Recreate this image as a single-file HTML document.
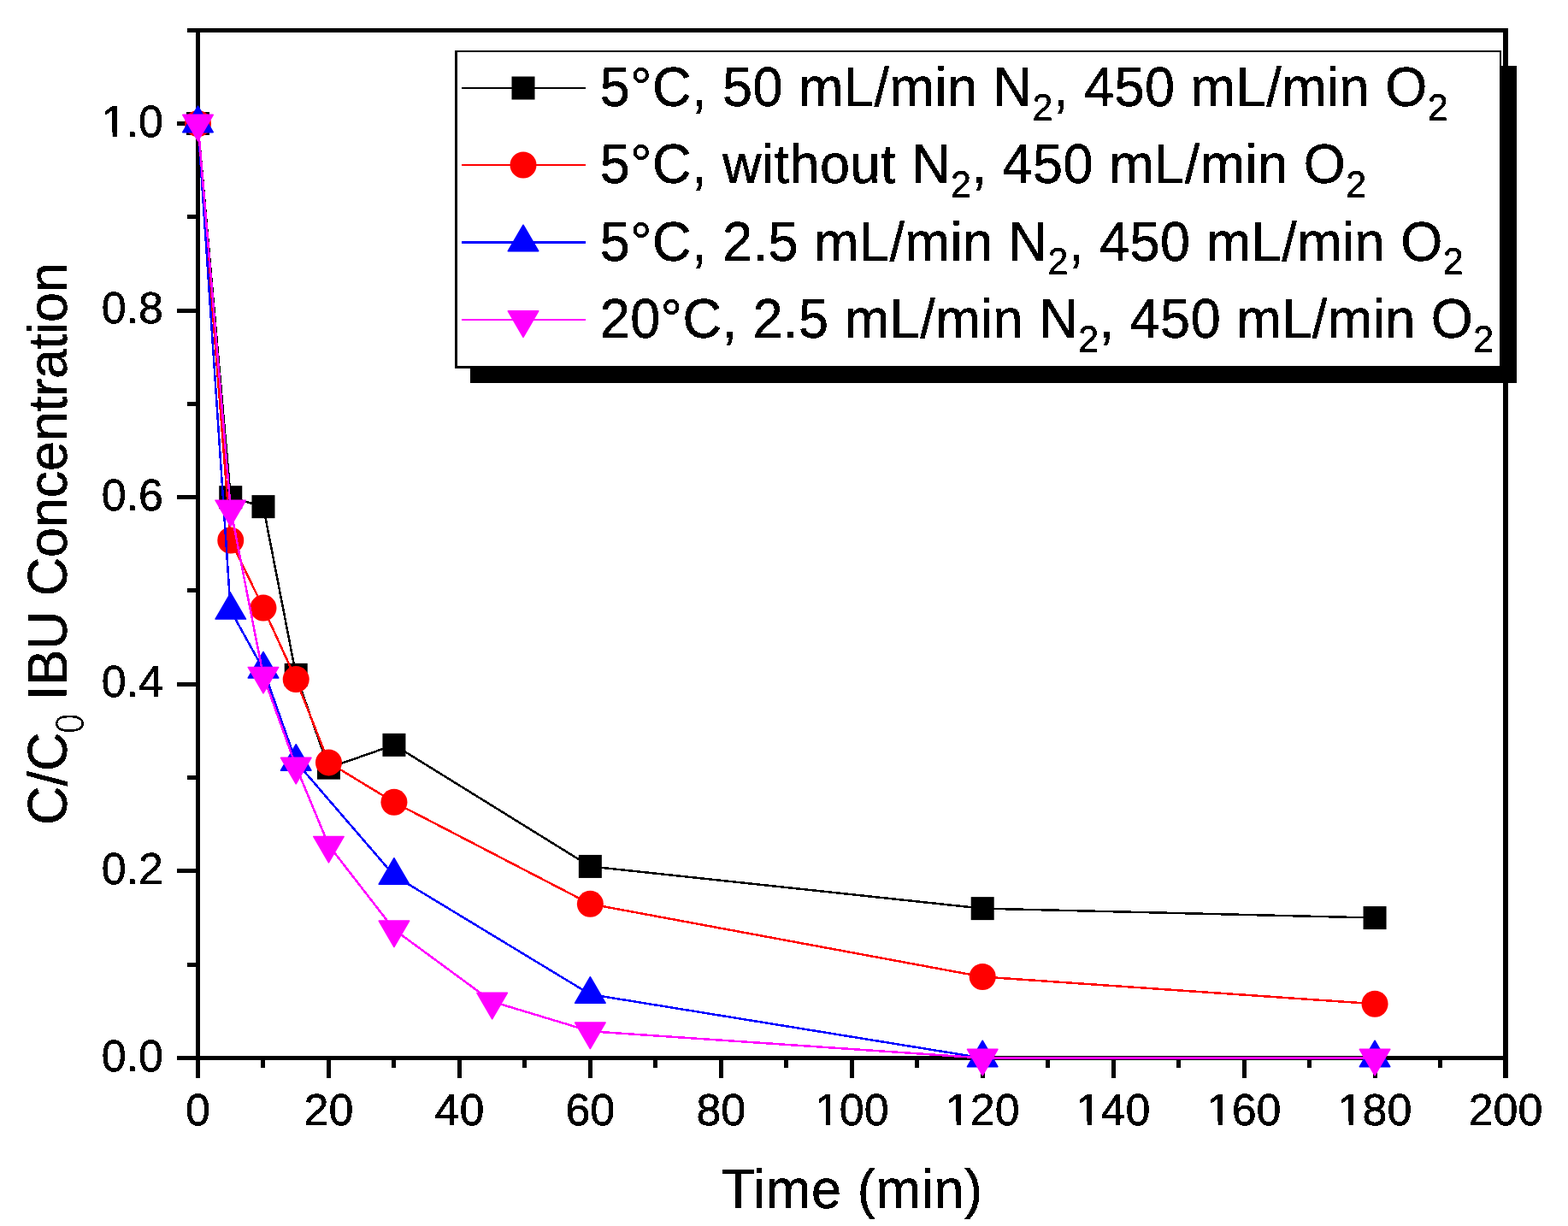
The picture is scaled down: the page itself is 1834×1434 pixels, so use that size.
<!DOCTYPE html>
<html><head><meta charset="utf-8"><title>C/C0 IBU Concentration vs Time</title>
<style>
html,body{margin:0;padding:0;background:#fff;overflow:hidden;}
svg{display:block;}
text{font-family:"Liberation Sans",Arial,sans-serif;fill:#000;stroke:#000;stroke-width:0.5px;filter:url(#bin);}
</style></head>
<body>
<svg width="1834" height="1434" viewBox="0 0 1834 1434">
<rect width="1834" height="1434" fill="#fff"/>
<defs><filter id="bin" x="-0.1" y="-0.3" width="1.2" height="1.6" color-interpolation-filters="sRGB"><feComponentTransfer><feFuncA type="discrete" tableValues="0 1"/></feComponentTransfer></filter></defs>
<g fill="#000" shape-rendering="crispEdges"><rect x="229" y="33" width="5" height="1228"/>
<rect x="1758" y="33" width="6" height="1228"/>
<rect x="219" y="33" width="1545" height="5"/>
<rect x="207" y="1235" width="1557" height="5"/>
<rect x="219" y="1126" width="10" height="5"/>
<rect x="207" y="1016" width="22" height="5"/>
<rect x="219" y="907" width="10" height="5"/>
<rect x="207" y="798" width="22" height="5"/>
<rect x="219" y="688" width="10" height="5"/>
<rect x="207" y="579" width="22" height="5"/>
<rect x="219" y="470" width="10" height="5"/>
<rect x="207" y="361" width="22" height="5"/>
<rect x="219" y="251" width="10" height="5"/>
<rect x="207" y="142" width="22" height="5"/>
<rect x="305" y="1240" width="5" height="9"/>
<rect x="382" y="1240" width="5" height="21"/>
<rect x="458" y="1240" width="5" height="9"/>
<rect x="535" y="1240" width="5" height="21"/>
<rect x="611" y="1240" width="5" height="9"/>
<rect x="688" y="1240" width="5" height="21"/>
<rect x="764" y="1240" width="5" height="9"/>
<rect x="841" y="1240" width="5" height="21"/>
<rect x="917" y="1240" width="5" height="9"/>
<rect x="994" y="1240" width="5" height="21"/>
<rect x="1070" y="1240" width="5" height="9"/>
<rect x="1147" y="1240" width="5" height="21"/>
<rect x="1223" y="1240" width="5" height="9"/>
<rect x="1300" y="1240" width="5" height="21"/>
<rect x="1376" y="1240" width="5" height="9"/>
<rect x="1453" y="1240" width="5" height="21"/>
<rect x="1529" y="1240" width="5" height="9"/>
<rect x="1606" y="1240" width="5" height="21"/>
<rect x="1682" y="1240" width="5" height="9"/></g>
<clipPath id="nofoot" clipPathUnits="userSpaceOnUse"><path clip-rule="evenodd" d="M0 0H1834V1434H0Z M121.25 154.72H131.79V161H121.25Z M136.88 154.72H146.64V161H136.88Z M955.41 1311.52H965.95V1317.8H955.41Z M971.04 1311.52H980.8V1317.8H971.04Z M1108.36 1311.52H1118.9V1317.8H1108.36Z M1123.99 1311.52H1133.75V1317.8H1123.99Z M1261.31 1311.52H1271.85V1317.8H1261.31Z M1276.94 1311.52H1286.7V1317.8H1276.94Z M1414.26 1311.52H1424.8V1317.8H1414.26Z M1429.89 1311.52H1439.65V1317.8H1429.89Z M1567.21 1311.52H1577.75V1317.8H1567.21Z M1582.84 1311.52H1592.6V1317.8H1582.84Z"/></clipPath>
<g clip-path="url(#nofoot)"><text transform="translate(191,1252.5) scale(1,1.0)" font-size="52" text-anchor="end">0.0</text>
<text transform="translate(191,1033.9) scale(1,1.0)" font-size="52" text-anchor="end">0.2</text>
<text transform="translate(191,815.3) scale(1,1.0)" font-size="52" text-anchor="end">0.4</text>
<text transform="translate(191,596.7) scale(1,1.0)" font-size="52" text-anchor="end">0.6</text>
<text transform="translate(191,378.1) scale(1,1.0)" font-size="52" text-anchor="end">0.8</text>
<text transform="translate(191,159.5) scale(1,1.0)" font-size="52" text-anchor="end">1.0</text>
<text transform="translate(231.5,1316.3) scale(1,1.0)" font-size="52" text-anchor="middle">0</text>
<text transform="translate(384.45,1316.3) scale(1,1.0)" font-size="52" text-anchor="middle">20</text>
<text transform="translate(537.4,1316.3) scale(1,1.0)" font-size="52" text-anchor="middle">40</text>
<text transform="translate(690.35,1316.3) scale(1,1.0)" font-size="52" text-anchor="middle">60</text>
<text transform="translate(843.3,1316.3) scale(1,1.0)" font-size="52" text-anchor="middle">80</text>
<text transform="translate(996.25,1316.3) scale(1,1.0)" font-size="52" text-anchor="middle">100</text>
<text transform="translate(1149.2,1316.3) scale(1,1.0)" font-size="52" text-anchor="middle">120</text>
<text transform="translate(1302.15,1316.3) scale(1,1.0)" font-size="52" text-anchor="middle">140</text>
<text transform="translate(1455.1,1316.3) scale(1,1.0)" font-size="52" text-anchor="middle">160</text>
<text transform="translate(1608.05,1316.3) scale(1,1.0)" font-size="52" text-anchor="middle">180</text>
<text transform="translate(1761,1316.3) scale(1,1.0)" font-size="52" text-anchor="middle">200</text></g>
<text transform="translate(997,1413) scale(1,1.04)" font-size="63" text-anchor="middle" letter-spacing="0.7">Time (min)</text>
<text transform="translate(77.8,965) rotate(-90) scale(1,1.04)" font-size="63">C/C<tspan font-family="DejaVu Sans" font-weight="200" font-size="41" dx="-2.7" dy="18">0</tspan><tspan dx="-3.3" dy="-18" letter-spacing="-0.17"> IBU Concentration</tspan></text>
<polyline points="231.5,144.5 269.74,581.7 307.98,592.63 346.21,789.37 384.45,898.12 460.93,871.35 690.35,1013.43 1149.2,1062.62 1608.05,1073.55" fill="none" stroke="#000" stroke-width="2.5" stroke-linejoin="round" shape-rendering="crispEdges"/>
<rect x="218" y="131" width="27" height="27" fill="#000"/>
<rect x="256.24" y="568.2" width="27" height="27" fill="#000"/>
<rect x="294.48" y="579.13" width="27" height="27" fill="#000"/>
<rect x="332.71" y="775.87" width="27" height="27" fill="#000"/>
<rect x="370.95" y="884.62" width="27" height="27" fill="#000"/>
<rect x="447.43" y="857.85" width="27" height="27" fill="#000"/>
<rect x="676.85" y="999.93" width="27" height="27" fill="#000"/>
<rect x="1135.7" y="1049.12" width="27" height="27" fill="#000"/>
<rect x="1594.55" y="1060.05" width="27" height="27" fill="#000"/>
<polyline points="231.5,144.5 269.74,631.98 307.98,711.11 346.21,794.62 384.45,891.89 460.93,938.35 690.35,1057.37 1149.2,1142.52 1608.05,1174.22" fill="none" stroke="#f00" stroke-width="2.5" stroke-linejoin="round" shape-rendering="crispEdges"/>
<circle cx="231.5" cy="144.5" r="15.5" fill="#f00"/>
<circle cx="269.74" cy="631.98" r="15.5" fill="#f00"/>
<circle cx="307.98" cy="711.11" r="15.5" fill="#f00"/>
<circle cx="346.21" cy="794.62" r="15.5" fill="#f00"/>
<circle cx="384.45" cy="891.89" r="15.5" fill="#f00"/>
<circle cx="460.93" cy="938.35" r="15.5" fill="#f00"/>
<circle cx="690.35" cy="1057.37" r="15.5" fill="#f00"/>
<circle cx="1149.2" cy="1142.52" r="15.5" fill="#f00"/>
<circle cx="1608.05" cy="1174.22" r="15.5" fill="#f00"/>
<polyline points="231.5,144.5 269.74,713.95 307.98,782.81 346.21,891.02 460.93,1024.04 690.35,1163.07 1149.2,1237.5 1608.05,1237.5" fill="none" stroke="#00f" stroke-width="2.5" stroke-linejoin="round" shape-rendering="crispEdges"/>
<polygon points="231.5,124.17 249.25,154.67 213.75,154.67" fill="#00f" stroke="#00f" stroke-width="1.5" stroke-linejoin="round"/>
<polygon points="269.74,693.62 287.49,724.12 251.99,724.12" fill="#00f" stroke="#00f" stroke-width="1.5" stroke-linejoin="round"/>
<polygon points="307.98,762.48 325.73,792.98 290.23,792.98" fill="#00f" stroke="#00f" stroke-width="1.5" stroke-linejoin="round"/>
<polygon points="346.21,870.69 363.96,901.19 328.46,901.19" fill="#00f" stroke="#00f" stroke-width="1.5" stroke-linejoin="round"/>
<polygon points="460.93,1003.7 478.68,1034.2 443.18,1034.2" fill="#00f" stroke="#00f" stroke-width="1.5" stroke-linejoin="round"/>
<polygon points="690.35,1142.73 708.1,1173.23 672.6,1173.23" fill="#00f" stroke="#00f" stroke-width="1.5" stroke-linejoin="round"/>
<polygon points="1149.2,1217.17 1166.95,1247.67 1131.45,1247.67" fill="#00f" stroke="#00f" stroke-width="1.5" stroke-linejoin="round"/>
<polygon points="1608.05,1217.17 1625.8,1247.67 1590.3,1247.67" fill="#00f" stroke="#00f" stroke-width="1.5" stroke-linejoin="round"/>
<polyline points="231.5,144.5 269.74,595.36 307.98,790.57 346.21,896.48 384.45,988.62 460.93,1087.21 575.64,1171.48 690.35,1206.24 1149.2,1237.5 1608.05,1237.5" fill="none" stroke="#f0f" stroke-width="2.5" stroke-linejoin="round" shape-rendering="crispEdges"/>
<polygon points="213.75,134.33 249.25,134.33 231.5,164.83" fill="#f0f" stroke="#f0f" stroke-width="1.5" stroke-linejoin="round"/>
<polygon points="251.99,585.2 287.49,585.2 269.74,615.7" fill="#f0f" stroke="#f0f" stroke-width="1.5" stroke-linejoin="round"/>
<polygon points="290.23,780.41 325.73,780.41 307.98,810.91" fill="#f0f" stroke="#f0f" stroke-width="1.5" stroke-linejoin="round"/>
<polygon points="328.46,886.32 363.96,886.32 346.21,916.82" fill="#f0f" stroke="#f0f" stroke-width="1.5" stroke-linejoin="round"/>
<polygon points="366.7,978.46 402.2,978.46 384.45,1008.96" fill="#f0f" stroke="#f0f" stroke-width="1.5" stroke-linejoin="round"/>
<polygon points="443.18,1077.05 478.68,1077.05 460.93,1107.55" fill="#f0f" stroke="#f0f" stroke-width="1.5" stroke-linejoin="round"/>
<polygon points="557.89,1161.32 593.39,1161.32 575.64,1191.82" fill="#f0f" stroke="#f0f" stroke-width="1.5" stroke-linejoin="round"/>
<polygon points="672.6,1196.07 708.1,1196.07 690.35,1226.57" fill="#f0f" stroke="#f0f" stroke-width="1.5" stroke-linejoin="round"/>
<polygon points="1131.45,1227.33 1166.95,1227.33 1149.2,1257.83" fill="#f0f" stroke="#f0f" stroke-width="1.5" stroke-linejoin="round"/>
<polygon points="1590.3,1227.33 1625.8,1227.33 1608.05,1257.83" fill="#f0f" stroke="#f0f" stroke-width="1.5" stroke-linejoin="round"/>
<g fill="#000" shape-rendering="crispEdges"><rect x="550" y="77" width="1224" height="371"/>
<rect x="532" y="59" width="1224" height="372" fill="#fff"/>
<rect x="532" y="59" width="1224" height="2"/>
<rect x="1754" y="59" width="2" height="372"/>
<rect x="532" y="59" width="3" height="372"/>
<rect x="532" y="428" width="1224" height="3"/></g>
<rect x="540" y="102" width="145" height="2" fill="#000" shape-rendering="crispEdges"/>
<rect x="598.5" y="89.5" width="27" height="27" fill="#000"/>
<text transform="translate(701.8,124) scale(1,1.04)" font-size="63" letter-spacing="0.5">5°C, 50 mL/min N<tspan font-size="43" dy="16">2</tspan><tspan dy="-16">, 450 mL/min O</tspan><tspan font-size="43" dy="16">2</tspan></text>
<rect x="540" y="192" width="145" height="2" fill="#f00" shape-rendering="crispEdges"/>
<circle cx="612" cy="193" r="15.5" fill="#f00"/>
<text transform="translate(701.8,214) scale(1,1.04)" font-size="63" letter-spacing="0.5">5°C, without N<tspan font-size="43" dy="16">2</tspan><tspan dy="-16">, 450 mL/min O</tspan><tspan font-size="43" dy="16">2</tspan></text>
<rect x="540" y="282" width="145" height="3" fill="#00f" shape-rendering="crispEdges"/>
<polygon points="612,263.17 629.75,293.67 594.25,293.67" fill="#00f" stroke="#00f" stroke-width="1.5" stroke-linejoin="round"/>
<text transform="translate(701.8,304.5) scale(1,1.04)" font-size="63" letter-spacing="0.5">5°C, 2.5 mL/min N<tspan font-size="43" dy="16">2</tspan><tspan dy="-16">, 450 mL/min O</tspan><tspan font-size="43" dy="16">2</tspan></text>
<rect x="540" y="373" width="145" height="2" fill="#f0f" shape-rendering="crispEdges"/>
<polygon points="594.25,363.83 629.75,363.83 612,394.33" fill="#f0f" stroke="#f0f" stroke-width="1.5" stroke-linejoin="round"/>
<text transform="translate(701.8,395) scale(1,1.04)" font-size="63" letter-spacing="0.5">20°C, 2.5 mL/min N<tspan font-size="43" dy="16">2</tspan><tspan dy="-16">, 450 mL/min O</tspan><tspan font-size="43" dy="16">2</tspan></text>
</svg>
</body></html>
